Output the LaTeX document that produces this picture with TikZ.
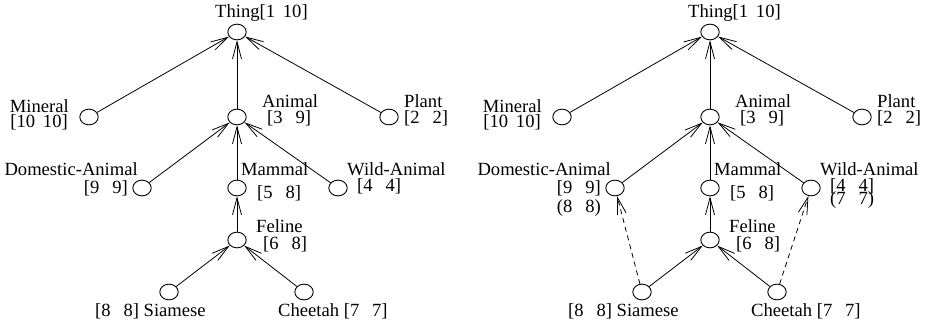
\documentclass[tikz,border=0pt]{standalone}
\usepackage{fontspec}
\setmainfont{Liberation Serif}
\usetikzlibrary{shapes.geometric,arrows.meta}
\newcommand\sx[1]{#1}
\newcommand\numb[1]{\setbox0\hbox{#1}\ifdim\wd0<0.77em\hbox to 0.77em{\hss#1}\else#1\fi}
\newcommand\iv[2]{[#1\hspace{0.42em}\numb{#2}]}
\newcommand\ip[2]{(#1\hspace{0.42em}\numb{#2})}
\begin{document}
\begin{tikzpicture}[x=1pt,y=-1pt,
  vtx/.style={ellipse, draw, line width=0.9pt, minimum width=18.4pt, minimum height=15.7pt, inner sep=0pt},
  lbl/.style={inner sep=0pt, font=\fontsize{18.6}{15}\selectfont},
  arr/.style={line width=0.8pt, -{Straight Barb[length=17pt,width=9pt]}},
  dsh/.style={arr, dash pattern=on 5pt off 4pt}]
\useasboundingbox (0,0) rectangle (928,326);
\foreach \ox/\s in {0/L,473/R}{
 \begin{scope}[xshift=\ox]
  \node[vtx] (thing\s) at (237,32) {};
  \node[vtx] (mineral\s) at (89,117) {};
  \node[vtx] (animal\s) at (237,117) {};
  \node[vtx] (plant\s) at (389,117) {};
  \node[vtx] (dom\s) at (142,188) {};
  \node[vtx] (mammal\s) at (237,188) {};
  \node[vtx] (wild\s) at (338,188) {};
  \node[vtx] (feline\s) at (237,240) {};
  \node[vtx] (siamese\s) at (169,292) {};
  \node[vtx] (cheetah\s) at (304,292) {};
  \node[lbl, anchor=base west] (thingT\s) at (215,18) {\sx{Thing\iv{1}{10}}};
  \node[lbl, anchor=base east] (mineralT\s) at (69,113) {\sx{Mineral}};
  \node[lbl, anchor=base east] (mineralN\s) at (68,128) {\sx{\iv{10}{10}}};
  \node[lbl, anchor=base west] (animalT\s) at (262,108) {\sx{Animal}};
  \node[lbl, anchor=base west] (animalN\s) at (267,124) {\sx{\iv{3}{9}}};
  \node[lbl, anchor=base west] (plantT\s) at (404,108) {\sx{Plant}};
  \node[lbl, anchor=base west] (plantN\s) at (404,124) {\sx{\iv{2}{2}}};
  \node[lbl, anchor=base east] (domT\s) at (138,175) {\sx{Domestic-Animal}};
  \node[lbl, anchor=base east] (domN\s) at (128,193) {\sx{\iv{9}{9}}};
  \node[lbl, anchor=base west] (mammalT\s) at (241,175) {\sx{Mammal}};
  \node[lbl, anchor=base west] (mammalN\s) at (257,198) {\sx{\iv{5}{8}}};
  \node[lbl, anchor=base west] (wildT\s) at (347,175) {\sx{Wild-Animal}};
  \node[lbl, anchor=base west] (wildN\s) at (357,191) {\sx{\iv{4}{4}}};
  \node[lbl, anchor=base west] (felineT\s) at (256,232) {\sx{Feline}};
  \node[lbl, anchor=base west] (felineN\s) at (263,249) {\sx{\iv{6}{8}}};
  \node[lbl, anchor=base west] (siameseT\s) at (95,316) {\sx{\iv{8}{8} Siamese}};
  \node[lbl, anchor=base west] (cheetahT\s) at (278,316) {\sx{Cheetah \iv{7}{7}}};
  \draw[arr] (mineral\s) -- (thing\s);
  \draw[arr] (animal\s) -- (thing\s);
  \draw[arr] (plant\s) -- (thing\s);
  \draw[arr] (dom\s) -- (animal\s);
  \draw[arr] (mammal\s) -- (animal\s);
  \draw[arr] (wild\s) -- (animal\s);
  \draw[arr] (feline\s) -- (mammal\s);
  \draw[arr] (siamese\s) -- (feline\s);
  \draw[arr] (cheetah\s) -- (feline\s);
 \end{scope}
}
\node[lbl, anchor=base east] (domP) at (601,212) {\sx{\ip{8}{8}}};
\node[lbl, anchor=base west] (wildP) at (830,204) {\sx{\ip{7}{7}}};
\draw[dsh] (siameseR) -- (domR);
\draw[dsh] (cheetahR) -- (wildR);
\end{tikzpicture}
\end{document}
